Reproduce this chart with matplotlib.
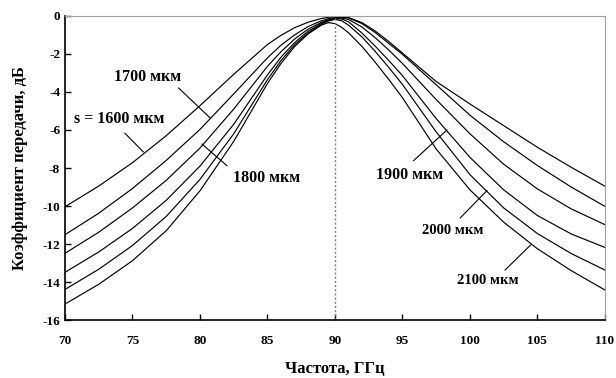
import matplotlib
matplotlib.use("Agg")
import matplotlib.pyplot as plt

plt.rcParams['font.family'] = ['Liberation Serif', 'DejaVu Serif']
plt.rcParams['font.weight'] = 'bold'
plt.rcParams['axes.unicode_minus'] = False

# frequency, GHz
freq = [70, 72.5, 75, 77.5, 80, 82.5, 85, 86, 87, 88, 89, 89.5, 90, 90.5, 91,
        92, 93, 94, 95, 97.5, 100, 102.5, 105, 107.5, 110]

# transmission coefficient, dB, for each gap s
s1600 = [-10.04, -8.95, -7.72, -6.30, -4.72, -3.07, -1.50, -1.02, -0.62, -0.33, -0.13, -0.07, -0.04, -0.04, -0.08,
         -0.35, -0.80, -1.35, -1.95, -3.45, -4.63, -5.77, -6.91, -7.96, -8.96]
s1700 = [-11.51, -10.38, -9.08, -7.60, -5.97, -4.10, -2.20, -1.54, -1.00, -0.56, -0.25, -0.14, -0.08, -0.07, -0.10,
         -0.40, -0.88, -1.45, -2.02, -3.62, -5.22, -6.62, -7.87, -9.00, -10.02]
s1800 = [-12.49, -11.38, -10.10, -8.65, -6.95, -4.90, -2.65, -1.88, -1.22, -0.70, -0.33, -0.20, -0.12, -0.11, -0.18,
         -0.58, -1.15, -1.80, -2.50, -4.40, -6.20, -7.80, -9.10, -10.15, -10.98]
s1900 = [-13.49, -12.42, -11.18, -9.70, -7.90, -5.70, -3.10, -2.17, -1.41, -0.81, -0.39, -0.22, -0.14, -0.16, -0.30,
         -0.90, -1.60, -2.35, -3.14, -5.40, -7.44, -9.15, -10.50, -11.47, -12.18]
s2000 = [-14.39, -13.33, -12.08, -10.55, -8.60, -6.20, -3.35, -2.35, -1.52, -0.90, -0.43, -0.27, -0.18, -0.25, -0.48,
         -1.10, -1.88, -2.72, -3.60, -6.10, -8.35, -10.10, -11.45, -12.50, -13.37]
s2100 = [-15.16, -14.12, -12.88, -11.30, -9.20, -6.60, -3.55, -2.50, -1.62, -0.95, -0.48, -0.35, -0.40, -0.60, -0.88,
         -1.60, -2.45, -3.35, -4.30, -7.00, -9.15, -10.85, -12.25, -13.40, -14.42]

curves = [s1600, s1700, s1800, s1900, s2000, s2100]

fig = plt.figure(figsize=(6.16, 3.78), dpi=100)
ax = fig.add_axes([0.1055, 0.1534, 0.8765, 0.8043])

for c in curves:
    ax.plot(freq, c, color='black', lw=0.85)

ax.plot([90, 90], [-16, 0], color='#808080', lw=1.0, ls=(0, (1.5, 1.5)))

# curve labels with leader lines
lab_kw = dict(fontsize=11.5, fontweight='bold', ha='center', va='center')
ax.text(76.15, -3.2, "1700 мкм", **lab_kw)
ax.text(74.0, -5.42, "s = 1600 мкм", **lab_kw)
ax.text(84.9, -8.53, "1800 мкм", **lab_kw)
ax.text(95.5, -8.37, "1900 мкм", **lab_kw)
ax.text(98.7, -11.3, "2000 мкм", fontsize=10.5, fontweight='bold', ha='center', va='center')
ax.text(101.3, -13.9, "2100 мкм", fontsize=10.5, fontweight='bold', ha='center', va='center')

leaders = [((74.44, -6.17), (75.8, -7.15)),
           ((78.42, -3.79), (80.76, -5.37)),
           ((80.15, -6.74), (82.0, -7.88)),
           ((95.83, -7.61), (98.3, -6.0)),
           ((99.28, -10.63), (101.26, -9.19)),
           ((102.6, -13.37), (104.5, -12.05))]
for (x0, y0), (x1, y1) in leaders:
    ax.plot([x0, x1], [y0, y1], color='black', lw=0.8)

ax.set_xlim(70, 110)
ax.set_ylim(-16, 0)
ax.set_xticks(range(70, 111, 5))
ax.set_yticks(range(-16, 1, 2))
ax.tick_params(direction='in', length=4, width=1, labelsize=9.5)
for lbl in ax.get_xticklabels() + ax.get_yticklabels():
    lbl.set_fontweight('bold')
ax.tick_params(axis='x', pad=11)

ax.spines['top'].set_color('#a0a0a0')
ax.spines['right'].set_color('#a0a0a0')
ax.spines['left'].set_linewidth(1.2)
ax.spines['bottom'].set_linewidth(1.2)

ax.set_xlabel("Частота, ГГц", fontsize=12, fontweight='bold', labelpad=10)
ax.set_ylabel("Коэффициент передачи, дБ", fontsize=12, fontweight='bold', labelpad=10)

fig.savefig("out.png", dpi=100)
